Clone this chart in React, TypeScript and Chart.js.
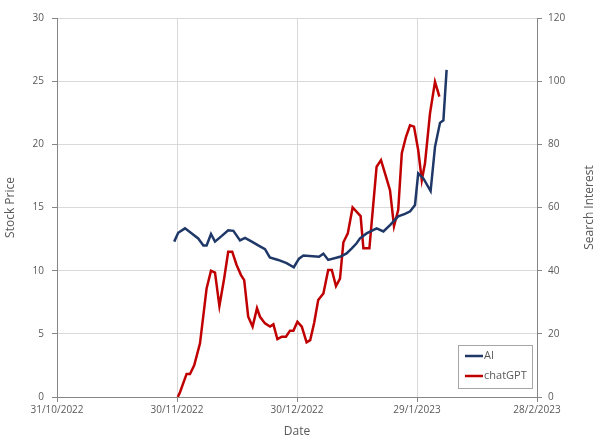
import React, { useEffect, useRef } from "react";
import { Chart, registerables } from "chart.js";

Chart.register(...registerables);

// x values are days after 31/10/2022
const xTickLabels = ["31/10/2022", "30/11/2022", "30/12/2022", "29/1/2023", "28/2/2023"];

const aiDays = [29.3, 30.3, 32, 33.7, 35.3, 36.6, 37.4, 38.5, 39.5, 41.2, 42.8, 44.1, 45.75, 47, 48.7, 50.3, 52, 53.2, 55.3, 57.4, 59.2, 60.5, 61.6, 65.5, 66.6, 67.8, 70.75, 72.4, 73.7, 74.9, 75.75, 77.4, 79.9, 81.6, 83.25, 85.3, 87, 88.3, 89.5, 90.3, 91.6, 93.4, 94.5, 95.75, 96.6, 97.4];
const aiPrice = [12.3, 13.0, 13.35, 12.95, 12.55, 12.0, 12.0, 12.9, 12.3, 12.75, 13.2, 13.15, 12.4, 12.6, 12.3, 12.0, 11.7, 11.05, 10.85, 10.6, 10.27, 10.95, 11.2, 11.1, 11.35, 10.85, 11.1, 11.37, 11.77, 12.17, 12.56, 12.95, 13.35, 13.1, 13.6, 14.3, 14.5, 14.7, 15.2, 17.7, 17.3, 16.3, 19.8, 21.7, 21.9, 25.9];

const gptDays = [30.2, 30.75, 32.4, 33.25, 34.3, 35.75, 37.4, 38.5, 39.5, 40.6, 41.8, 42.8, 43.8, 44.9, 46, 46.8, 47.8, 48.9, 50, 50.75, 52, 53.25, 54.1, 55.1, 56.2, 57.25, 58.25, 59.1, 60.1, 61.2, 62.4, 63.3, 64.3, 65.3, 66.6, 67.8, 68.7, 69.75, 70.75, 71.6, 72.7, 73.9, 75.9, 76.6, 78.1, 79.9, 81, 82, 83.25, 84.25, 85.3, 86.2, 87.25, 88.25, 89.25, 90.3, 91.2, 92, 93.25, 94.5, 95.6];
const gptInterest = [0, 1.5, 7.3, 7.3, 10, 17, 34.4, 40, 39.4, 28.8, 37.6, 46, 46, 41.8, 38.6, 37, 25.4, 22.3, 28.1, 25.4, 23.3, 22.3, 23, 18.3, 19.1, 19.1, 21, 21, 23.8, 22.3, 17.3, 18, 23.5, 30.7, 32.8, 40.2, 40.2, 35.1, 37.5, 49, 51.8, 60, 57.3, 47.1, 47.1, 72.9, 75, 70.8, 65.5, 54.1, 59.2, 77.2, 82.4, 86, 85.6, 78.2, 68.7, 74, 89.8, 99.8, 95.1];

const rightTitle = "Search Interest";

const FONT = "'Open Sans', sans-serif";
const TEXT = "#595959";
const GRID = "#d9d9d9";
const AXIS = "#868686";

const extrasPlugin = {
  id: "extras",
  afterDraw(chart: any) {
    const { ctx, chartArea } = chart;
    // right axis title, reading bottom-to-top
    ctx.save();
    ctx.font = `12px ${FONT}`;
    ctx.fillStyle = TEXT;
    ctx.textAlign = "center";
    ctx.textBaseline = "middle";
    ctx.translate(chart.width - 11, (chartArea.top + chartArea.bottom) / 2);
    ctx.rotate(-Math.PI / 2);
    ctx.fillText(rightTitle, 0, 0);
    ctx.restore();

    // legend box
    const w = 74;
    const h = 43;
    const x = chartArea.right - 5 - w;
    const y = chartArea.bottom - 9 - h;
    ctx.save();
    ctx.fillStyle = "#ffffff";
    ctx.fillRect(x, y, w, h);
    ctx.strokeStyle = "#a6a6a6";
    ctx.lineWidth = 1;
    ctx.strokeRect(x + 0.5, y + 0.5, w, h);
    ctx.font = `11px ${FONT}`;
    ctx.textBaseline = "middle";
    chart.data.datasets.forEach((ds: any, i: number) => {
      const cy = y + 11 + i * 20;
      ctx.strokeStyle = ds.borderColor;
      ctx.lineWidth = 2.5;
      ctx.beginPath();
      ctx.moveTo(x + 7, cy);
      ctx.lineTo(x + 25, cy);
      ctx.stroke();
      ctx.fillStyle = TEXT;
      ctx.fillText(ds.label, x + 26, cy);
    });
    ctx.restore();
  },
};

export default function App() {
  const ref = useRef<HTMLCanvasElement | null>(null);

  useEffect(() => {
    if (!ref.current) return;
    const chart = new Chart(ref.current, {
      type: "line",
      data: {
        datasets: [
          {
            label: "AI",
            data: aiDays.map((d, i) => ({ x: d, y: aiPrice[i] })),
            borderColor: "#1f3868",
            borderWidth: 2.5,
            pointRadius: 0,
            yAxisID: "y",
            tension: 0,
          },
          {
            label: "chatGPT",
            data: gptDays.map((d, i) => ({ x: d, y: gptInterest[i] })),
            borderColor: "#c00000",
            borderWidth: 2.5,
            pointRadius: 0,
            yAxisID: "y1",
            tension: 0,
          },
        ],
      },
      options: {
        animation: false,
        responsive: false,
        maintainAspectRatio: false,
        layout: { padding: { top: 18, left: 0, right: 0, bottom: 0 } },
        plugins: { legend: { display: false }, tooltip: { enabled: false } },
        scales: {
          x: {
            type: "linear",
            min: 0,
            max: 120,
            afterBuildTicks: (axis: any) => {
              axis.ticks = xTickLabels.map((_, i) => ({ value: i * 30 }));
            },
            afterFit: (axis: any) => {
              axis.height = 47;
            },
            ticks: {
              callback: (v: any) => xTickLabels[Math.round(Number(v) / 30)] ?? "",
              color: TEXT,
              font: { family: FONT, size: 10 },
              padding: 2,
              maxRotation: 0,
              autoSkip: false,
            },
            grid: { color: GRID, tickColor: AXIS, tickLength: 5 },
            border: { color: AXIS, width: 1 },
            title: {
              display: true,
              text: "Date",
              color: TEXT,
              font: { family: FONT, size: 12 },
              padding: { top: 0, bottom: 5 },
            },
          },
          y: {
            type: "linear",
            position: "left",
            min: 0,
            max: 30,
            afterFit: (axis: any) => {
              axis.width = 57;
            },
            ticks: {
              stepSize: 5,
              color: TEXT,
              font: { family: FONT, size: 10 },
              padding: 8,
            },
            grid: { color: GRID, tickColor: AXIS, tickLength: 5 },
            border: { color: AXIS, width: 1 },
            title: {
              display: true,
              text: "Stock Price",
              color: TEXT,
              font: { family: FONT, size: 12 },
              padding: { top: 3, bottom: 0 },
            },
          },
          y1: {
            type: "linear",
            position: "right",
            min: 0,
            max: 120,
            afterFit: (axis: any) => {
              axis.width = 64;
            },
            ticks: {
              stepSize: 20,
              color: TEXT,
              font: { family: FONT, size: 10 },
              padding: 6,
            },
            grid: { drawOnChartArea: false, tickColor: AXIS, tickLength: 5 },
            border: { color: AXIS, width: 1 },
            title: { display: false },
          },
        },
      },
      plugins: [extrasPlugin],
    });
    return () => chart.destroy();
  }, []);

  return (
    <div style={{ position: "fixed", left: 0, top: 0, width: 601, height: 444, background: "#fff" }}>
      <canvas ref={ref} width={601} height={444} style={{ width: 601, height: 444 }} />
    </div>
  );
}
